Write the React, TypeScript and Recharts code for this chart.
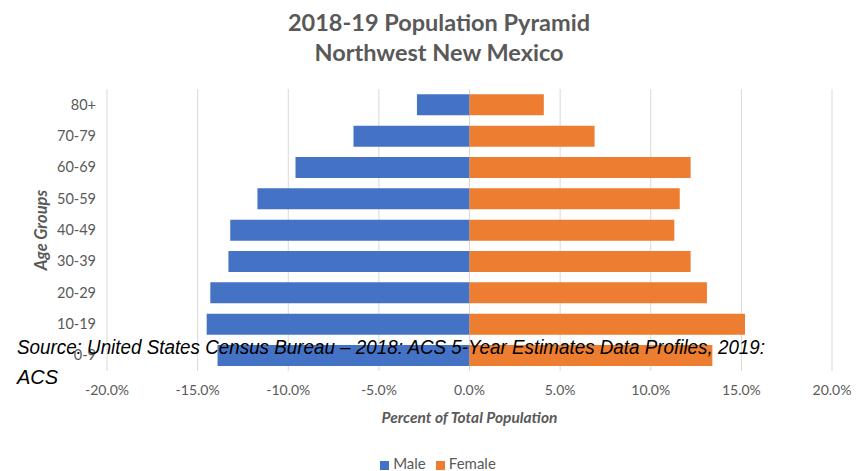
import React from 'react';
import { BarChart, Bar, XAxis, YAxis, CartesianGrid, Legend, Label } from 'recharts';

// Age groups listed top to bottom
const ageGroups = ['80+', '70-79', '60-69', '50-59', '40-49', '30-39', '20-29', '10-19', '0-9'];
// Percent of total population
const malePct = [2.9, 6.4, 9.6, 11.7, 13.2, 13.3, 14.3, 14.5, 13.9];
const femalePct = [4.1, 6.9, 12.2, 11.6, 11.3, 12.2, 13.1, 15.2, 13.4];
const xTicks = [-20, -15, -10, -5, 0, 5, 10, 15, 20];

// Male values go left of zero
const rows = ageGroups.map((age, i) => ({
  age,
  Male: -malePct[i],
  Female: femalePct[i],
}));

const GRAY = '#595959';
const FONT = 'Lato, "Open Sans", sans-serif';
const legendOrder: Record<string, number> = { Male: 0, Female: 1 };

export default function App() {
  return (
    <div style={{ position: 'absolute', left: 0, top: 0, width: 865, height: 471, background: '#fff', fontFamily: FONT }}>
      <div style={{ position: 'absolute', left: 0, top: 7, width: 878, textAlign: 'center', color: GRAY, fontWeight: 700, fontSize: 23.5, lineHeight: '30px' }}>
        <div>2018-19 Population Pyramid</div>
        <div>Northwest New Mexico</div>
      </div>
      <BarChart
        width={865}
        height={471}
        data={rows}
        layout="vertical"
        stackOffset="sign"
        barCategoryGap="17%"
        margin={{ top: 89, right: 33, left: 0, bottom: 42 }}
      >
        <CartesianGrid horizontal={false} stroke="#d9d9d9" />
        <XAxis
          type="number"
          domain={[-20, 20]}
          ticks={xTicks}
          tickFormatter={(v: number) => `${v.toFixed(1)}%`}
          axisLine={false}
          tickLine={false}
          tick={{ fill: GRAY, fontSize: 14, fontFamily: FONT }}
          tickMargin={8}
          height={40}
        >
          <Label
            value="Percent of Total Population"
            position="bottom"
            offset={1}
            style={{ fill: GRAY, fontSize: 15.5, fontWeight: 700, fontStyle: 'italic', fontFamily: FONT }}
          />
        </XAxis>
        <YAxis
          type="category"
          dataKey="age"
          width={107}
          axisLine={false}
          tickLine={false}
          tickMargin={5}
          tick={{ fill: GRAY, fontSize: 14.5, fontFamily: FONT }}
        >
          <Label
            value="Age Groups"
            angle={-90}
            position="insideLeft"
            offset={41}
            style={{ fill: GRAY, fontSize: 16.5, fontWeight: 700, fontStyle: 'italic', fontFamily: FONT, textAnchor: 'middle' }}
          />
        </YAxis>
        <Legend
          verticalAlign="bottom"
          align="center"
          iconType="square"
          iconSize={9}
          itemSorter={(item: any) => legendOrder[item.value] ?? 0}
          wrapperStyle={{ bottom: -1, left: 27, fontSize: 15, fontFamily: FONT, color: GRAY }}
          formatter={(value: string) => <span style={{ color: GRAY }}>{value}</span>}
        />
        <Bar dataKey="Male" stackId="p" fill="#4472C4" isAnimationActive={false} />
        <Bar dataKey="Female" stackId="p" fill="#ED7D31" isAnimationActive={false} />
      </BarChart>
      <svg width={865} height={120} style={{ position: 'absolute', left: 0, top: 320, pointerEvents: 'none' }}>
        <g fontFamily='"Liberation Sans", Arial, sans-serif' fontStyle="italic" fontSize={20} fill="#000">
          <text x={17} y={34} textLength={748} lengthAdjust="spacingAndGlyphs">
            Source: United States Census Bureau – 2018: ACS 5-Year Estimates Data Profiles, 2019:
          </text>
          <text x={17} y={64}>ACS</text>
        </g>
      </svg>
    </div>
  );
}
